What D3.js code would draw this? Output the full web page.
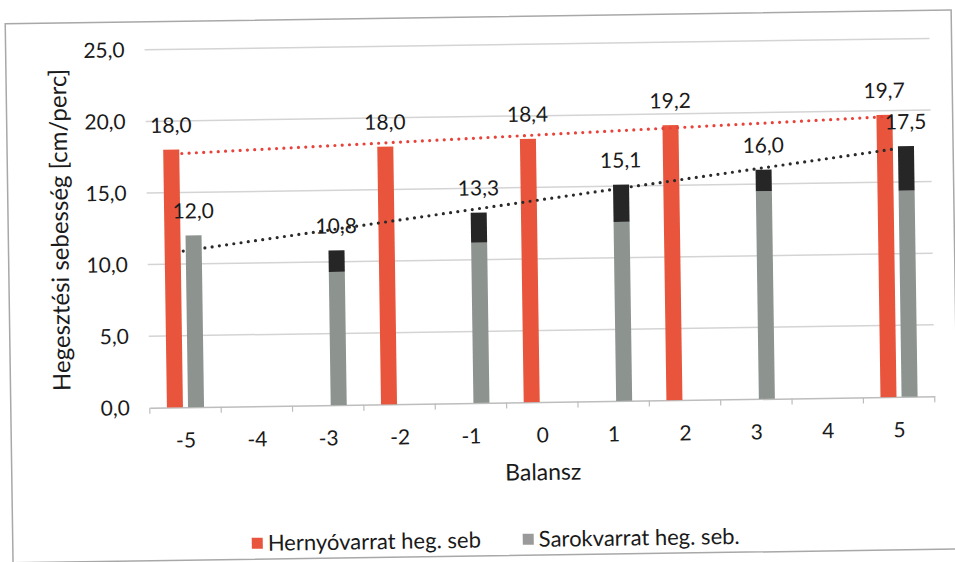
<!DOCTYPE html>
<html>
<head>
<meta charset="utf-8">
<script src="https://cdn.jsdelivr.net/npm/d3@7"></script>
<style>
  body { margin: 0; background: #fff; }
  svg { display: block; }
  text { font-family: Lato, "Open Sans", sans-serif; fill: #1a1a1a; }
</style>
</head>
<body>
<svg id="chart" width="955" height="562"></svg>
<script>
// Balance setting on the x axis, welding speed (cm/perc) on the y axis
const categories = [-5, -4, -3, -2, -1, 0, 1, 2, 3, 4, 5];
const hernyoValues = [18.0, null, null, 18.0, null, 18.4, null, 19.2, null, null, 19.7];
const sarokValues  = [12.0, null, 10.8, null, 13.3, null, 15.1, null, 16.0, null, 17.5];
// lower end of the dark cap on each Sarokvarrat column
const sarokCapBase = [12.0, null, 9.3, null, 11.2, null, 12.5, null, 14.5, null, 14.4];
const yTicks = [0, 5, 10, 15, 20, 25];
const seriesNames = ["Hernyóvarrat heg. seb", "Sarokvarrat heg. seb."];

const colors = { hernyo: "#e8553c", sarok: "#8d948f", cap: "#262626",
                 hernyoTrend: "#e8433a", sarokTrend: "#2a2a2a" };

const svg = d3.select("#chart");
const root = svg.append("g").attr("transform", "rotate(-0.83, 477, 281)");

const plot = { left: 148, right: 933, top: 45, bottom: 403 };
const fmt = v => d3.format(".1f")(v).replace(".", ",");

const x = d3.scaleBand().domain(categories).range([plot.left, plot.right]).padding(0);
const inner = d3.scaleBand().domain(["hernyo", "sarok"])
  .range([-x.bandwidth() * 0.26, x.bandwidth() * 0.26]).paddingInner(0.24);
const y = d3.scaleLinear().domain([0, 25]).range([plot.bottom, plot.top]);

// outer frame
root.append("rect").attr("x", 9).attr("y", 17).attr("width", 946).attr("height", 539)
  .attr("fill", "none").attr("stroke", "#a8a8a8").attr("stroke-width", 1.5);

// horizontal gridlines
root.append("g").selectAll("line").data(yTicks.filter(t => t > 0)).join("line")
  .attr("x1", plot.left).attr("x2", plot.right)
  .attr("y1", d => y(d)).attr("y2", d => y(d))
  .attr("stroke", "#d4d4d4").attr("stroke-width", 1.5);

// y axis labels
root.append("g").selectAll("text").data(yTicks).join("text")
  .attr("x", plot.left - 20).attr("y", d => y(d)).attr("dy", "0.35em")
  .attr("text-anchor", "end").attr("font-size", 21).text(fmt);

// x axis line with ticks between categories
const xAxis = d3.axisBottom(x).tickSize(0).tickPadding(0).tickFormat(d => d);
const xg = root.append("g").attr("transform", `translate(0,${plot.bottom})`).call(xAxis);
xg.select(".domain").attr("stroke", "#bdbdbd").attr("stroke-width", 1.5);
xg.selectAll(".tick text").attr("font-size", 21).attr("y", 33).attr("dy", "0.35em").style("fill", "#1a1a1a");
xg.selectAll(".tick line").remove();
xg.append("g").selectAll("line").data(categories.map(c => x(c)).concat([plot.right])).join("line")
  .attr("x1", d => d).attr("x2", d => d).attr("y1", 0).attr("y2", 6)
  .attr("stroke", "#bdbdbd").attr("stroke-width", 1.2);

// axis titles
root.append("text")
  .attr("transform", `translate(69,${(plot.top + plot.bottom) / 2}) rotate(-90)`)
  .attr("text-anchor", "middle").attr("font-size", 24)
  .text("Hegesztési sebesség [cm/perc]");
root.append("text").attr("x", (plot.left + plot.right) / 2).attr("y", 481)
  .attr("text-anchor", "middle").attr("font-size", 23).text("Balansz");

const center = c => x(c) + x.bandwidth() / 2;

// Hernyóvarrat columns
const hernyoData = categories.map((c, i) => ({ c, v: hernyoValues[i] })).filter(d => d.v != null);
root.append("g").selectAll("rect").data(hernyoData).join("rect")
  .attr("x", d => center(d.c) + inner("hernyo"))
  .attr("width", inner.bandwidth())
  .attr("y", d => y(d.v)).attr("height", d => y(0) - y(d.v))
  .attr("fill", colors.hernyo);

// linear trendlines (least squares on the balance value)
function fit(data) {
  const mx = d3.mean(data, d => d.c), my = d3.mean(data, d => d.v);
  const b = d3.sum(data, d => (d.c - mx) * (d.v - my)) / d3.sum(data, d => (d.c - mx) ** 2);
  return c => my + b * (c - mx);
}
const sarokData = categories.map((c, i) => ({ c, v: sarokValues[i], base: sarokCapBase[i] }))
  .filter(d => d.v != null);
const ends = [categories[0], categories[categories.length - 1]];
[[hernyoData, colors.hernyoTrend], [sarokData, colors.sarokTrend]].forEach(([data, col]) => {
  const f = fit(data);
  root.append("line")
    .attr("x1", center(ends[0])).attr("y1", y(f(ends[0])))
    .attr("x2", center(ends[1])).attr("y2", y(f(ends[1])))
    .attr("stroke", col).attr("stroke-width", 3.2)
    .attr("stroke-linecap", "round").attr("stroke-dasharray", "0 7.3");
});

// Sarokvarrat columns with dark caps
const sg = root.append("g");
sg.selectAll("rect.s").data(sarokData).join("rect").attr("class", "s")
  .attr("x", d => center(d.c) + inner("sarok"))
  .attr("width", inner.bandwidth())
  .attr("y", d => y(d.base)).attr("height", d => y(0) - y(d.base))
  .attr("fill", colors.sarok);
sg.selectAll("rect.cap").data(sarokData.filter(d => d.v > d.base)).join("rect").attr("class", "cap")
  .attr("x", d => center(d.c) + inner("sarok"))
  .attr("width", inner.bandwidth())
  .attr("y", d => y(d.v)).attr("height", d => y(d.base) - y(d.v))
  .attr("fill", colors.cap);

// value labels
const labels = hernyoData.map(d => ({ ...d, s: "hernyo" }))
  .concat(sarokData.map(d => ({ ...d, s: "sarok" })));
root.append("g").selectAll("text").data(labels).join("text")
  .attr("x", d => center(d.c) + inner(d.s) + inner.bandwidth() / 2)
  .attr("y", d => y(d.v) - 17)
  .attr("text-anchor", "middle").attr("font-size", 21)
  .text(d => fmt(d.v));

// legend
const legendItems = [
  { name: seriesNames[0], color: colors.hernyo, x: 248 },
  { name: seriesNames[1], color: "#9a9a9a", x: 519 }
];
const lg = root.append("g").selectAll("g").data(legendItems).join("g")
  .attr("transform", d => `translate(${d.x},540)`);
lg.append("rect").attr("x", 0).attr("y", -5.5).attr("width", 11).attr("height", 11)
  .attr("fill", d => d.color);
lg.append("text").attr("x", 16).attr("dy", "0.35em").attr("font-size", 22).text(d => d.name);
</script>
</body>
</html>
